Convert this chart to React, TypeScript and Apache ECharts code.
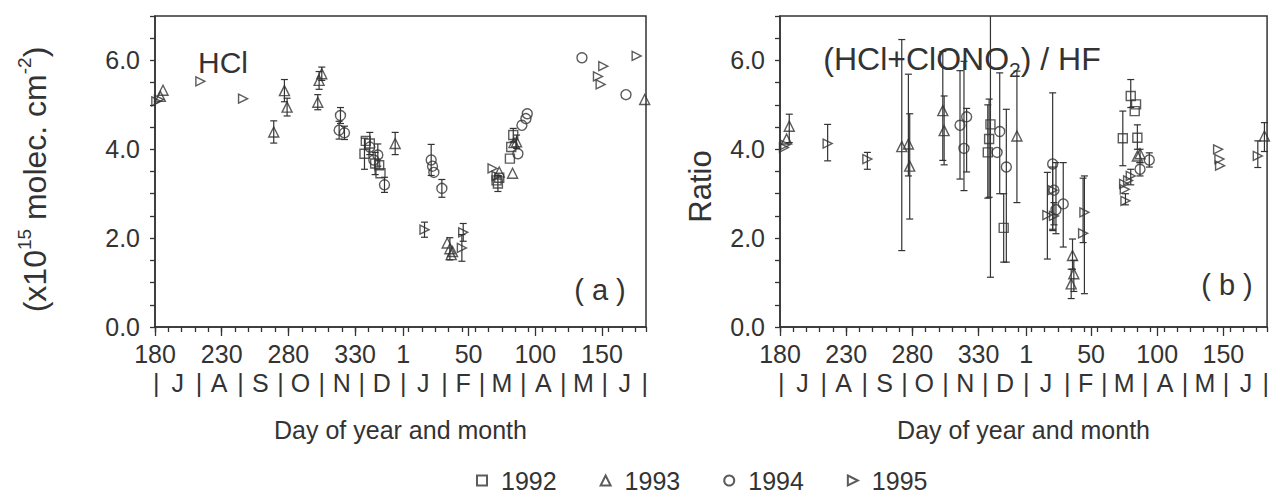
import React, { useEffect, useRef } from "react";
import * as echarts from "echarts";

const FONT = '"Liberation Sans", Arial, Helvetica, sans-serif';
const INK = "#333333";

// ---- axis labels ----
const years = ["1992", "1993", "1994", "1995"];
const dayTicks = [180, 230, 280, 330, 366, 415, 465, 515]; // day 366 = 1 Jan of next year
const monthStarts = [181, 213, 244, 274, 305, 335, 366, 397, 425, 456, 486, 517, 547];
const monthMids = [197, 228, 259, 289, 320, 350, 381, 411, 440, 471, 501, 532];
const monthLetters = ["J", "A", "S", "O", "N", "D", "J", "F", "M", "A", "M", "J"];
const yLabelValues = [0, 2, 4, 6];

// ---- panel (a) HCl columns: [day, value, error half-width] ----
const hcl1992 = [
  [337, 3.9, 0.35], [338, 4.19, 0], [341, 4.13, 0.25], [345, 3.68, 0.25], [348, 3.64, 0], [349, 3.46, 0],
  [436, 3.3, 0], [437, 3.23, 0.18], [438, 3.36, 0], [446, 3.79, 0], [447, 4.05, 0], [448.5, 4.32, 0.15],
];
const hcl1993 = [
  [184, 5.19, 0], [186, 5.33, 0], [269, 4.39, 0.25], [277, 5.32, 0.25], [279, 4.95, 0.2],
  [302, 5.06, 0.17], [303, 5.55, 0.2], [305, 5.7, 0.15], [360, 4.13, 0.25],
  [399, 1.89, 0], [401, 1.76, 0.25], [402, 1.63, 0], [403, 1.7, 0],
  [438, 3.49, 0], [448, 3.46, 0], [449, 4.15, 0], [451, 4.17, 0.15], [547, 5.12, 0],
];
const hcl1994 = [
  [318, 4.43, 0.2], [319, 4.76, 0.18], [322, 4.37, 0.15], [341, 4.05, 0], [344, 3.76, 0], [347, 3.87, 0.25],
  [352, 3.2, 0.17], [387, 3.76, 0.35], [388, 3.62, 0], [389, 3.48, 0], [395, 3.12, 0.2],
  [452, 3.9, 0], [455, 4.54, 0], [458, 4.69, 0], [459, 4.8, 0], [500, 6.06, 0], [533, 5.23, 0],
];
const hcl1995 = [
  [181, 5.08, 0], [183, 5.12, 0], [214, 5.53, 0], [246, 5.14, 0], [382, 2.19, 0.17],
  [411, 2.13, 0.2], [410, 1.78, 0.3], [433, 3.57, 0], [436, 3.4, 0],
  [512, 5.64, 0], [514, 5.46, 0], [516, 5.87, 0], [541, 6.1, 0],
];

// ---- panel (b) ratio: [day, value, low, high] (low/high null when no bar) ----
const ratio1992 = [
  [337, 3.93, 2.9, 5.0], [338, 4.23, 2.92, 5.13], [339, 4.56, 1.12, 7.5], [349, 2.23, 1.46, 3.0],
  [439, 4.25, 3.63, 4.86], [445, 5.2, 4.94, 5.57], [448, 4.86, null, null], [449, 5.01, null, null],
  [450, 4.26, 4.0, 4.55],
];
const ratio1993 = [
  [185, 4.23, null, null], [187, 4.52, 4.15, 4.79], [272, 4.06, 1.72, 6.47], [277, 4.12, 3.4, 5.69],
  [278, 3.62, 2.43, 4.8], [303, 4.87, 3.75, 6.2], [304, 4.42, 3.65, 5.2], [359, 4.3, 2.8, 5.76],
  [400, 0.97, 0.64, 1.3], [401, 1.61, 1.3, 1.98], [402, 1.2, 0.8, 1.5],
  [450, 3.85, null, null], [452, 3.9, 3.7, 4.0], [546, 4.3, 3.95, 4.6],
];
const ratio1994 = [
  [316, 4.54, 3.33, 5.77], [319, 4.02, 3.07, 5.98], [321, 4.73, 3.49, 4.92], [344, 3.93, null, null],
  [346, 4.4, 3.0, 5.72], [351, 3.6, 1.46, 4.9], [386, 3.67, 2.17, 5.27], [387, 3.08, null, null],
  [388.5, 2.64, 2.1, 3.7], [394, 2.77, 1.8, 3.7], [452, 3.55, 3.4, 3.7], [459, 3.76, 3.6, 3.92],
];
const ratio1995 = [
  [183, 4.04, null, null], [184, 4.1, null, null], [216, 4.13, 3.74, 4.56], [246, 3.78, 3.55, 3.93],
  [382, 2.52, 1.53, 3.48], [386, 3.08, 2.2, 3.6], [387, 2.5, 2.3, 2.8], [409, 2.11, 1.9, 3.35],
  [410, 2.58, 0.75, 3.4], [440, 3.22, null, null], [440.5, 3.1, null, null], [441, 2.84, 2.75, 3.0],
  [443, 3.3, null, null], [445, 3.4, 3.2, 3.55], [511, 4.0, null, null], [512, 3.78, null, null],
  [512.5, 3.63, null, null], [541, 3.85, 3.59, 4.19],
];

const hclSets = [hcl1992, hcl1993, hcl1994, hcl1995];
const ratioSets = [ratio1992, ratio1993, ratio1994, ratio1995];
const symbols = ["rect", "triangle", "circle", "path://M0,0L10,5L0,10Z"];
const symbolSizes = [9, 10, 10, 9];

const txt = (size: number) => ({ color: INK, fontFamily: FONT, fontSize: size });

function xAxesFor(gridIndex: number) {
  const lineStyle = { color: INK, width: 1.3 };
  return [
    {
      type: "value", gridIndex, min: 180, max: 548, interval: 10, position: "bottom",
      axisLine: { show: true, lineStyle: { color: INK, width: 1.5 } },
      axisTick: { show: true, length: 5, lineStyle },
      axisLabel: {
        customValues: dayTicks,
        formatter: (v: number) => String(v > 365 ? v - 365 : v),
        margin: 14, ...txt(25),
      },
      splitLine: { show: false },
      name: "Day of year and month", nameLocation: "middle", nameGap: 90,
      nameTextStyle: txt(25),
    },
    {
      type: "value", gridIndex, min: 180, max: 548, position: "bottom",
      axisLine: { show: false },
      axisTick: { show: true, length: 9, customValues: dayTicks, lineStyle },
      axisLabel: { show: false }, splitLine: { show: false },
    },
    {
      type: "value", gridIndex, min: 180, max: 548, position: "bottom", offset: 29,
      axisLine: { show: false }, axisTick: { show: false }, splitLine: { show: false },
      axisLabel: {
        customValues: [...monthStarts, ...monthMids].sort((a, b) => a - b),
        formatter: (v: number) => {
          const i = monthMids.indexOf(v);
          return i >= 0 ? monthLetters[i] : "|";
        },
        margin: 14, ...txt(25),
      },
    },
  ];
}

function yAxisFor(gridIndex: number, name: string, nameGap: number, nameStyle: any) {
  return {
    type: "value", gridIndex, min: 0, max: 7, interval: 0.5,
    axisLine: { show: true, lineStyle: { color: INK, width: 1.5 } },
    axisTick: { show: true, length: 5, lineStyle: { color: INK, width: 1.3 } },
    axisLabel: { customValues: yLabelValues, formatter: (v: number) => v.toFixed(1), margin: 15, ...txt(25) },
    splitLine: { show: false },
    name, nameLocation: "middle", nameRotate: 90, nameGap, nameTextStyle: nameStyle,
  };
}

const errorRender = (params: any, api: any) => {
  const x = api.value(0);
  const p1 = api.coord([x, api.value(1)]);
  const p2 = api.coord([x, api.value(2)]);
  const w = 3.5;
  const style = { stroke: INK, lineWidth: 1.2 };
  return {
    type: "group",
    children: [
      { type: "line", shape: { x1: p1[0], y1: p1[1], x2: p2[0], y2: p2[1] }, style },
      { type: "line", shape: { x1: p1[0] - w, y1: p1[1], x2: p1[0] + w, y2: p1[1] }, style },
      { type: "line", shape: { x1: p2[0] - w, y1: p2[1], x2: p2[0] + w, y2: p2[1] }, style },
    ],
  };
};

function buildOption() {
  const series: any[] = [];
  const errA: number[][] = [];
  const errB: number[][] = [];
  hclSets.forEach((set) => set.forEach((d) => { if (d[2] > 0) errA.push([d[0], d[1] - d[2], d[1] + d[2]]); }));
  ratioSets.forEach((set) => set.forEach((d: any) => { if (d[2] != null) errB.push([d[0], d[2], d[3]]); }));
  series.push({ type: "custom", name: "errA", xAxisIndex: 0, yAxisIndex: 0, clip: true, renderItem: errorRender, data: errA, encode: { x: 0, y: [1, 2] }, silent: true });
  series.push({ type: "custom", name: "errB", xAxisIndex: 3, yAxisIndex: 1, clip: true, renderItem: errorRender, data: errB, encode: { x: 0, y: [1, 2] }, silent: true });
  years.forEach((y, i) => {
    const common = {
      type: "scatter", name: y, symbol: symbols[i], symbolSize: symbolSizes[i],
      itemStyle: { color: "rgba(255,255,255,0)", borderColor: INK, borderWidth: 1.4 },
      emphasis: { disabled: true }, silent: true,
    };
    series.push({ ...common, xAxisIndex: 0, yAxisIndex: 0, data: hclSets[i].map((d) => [d[0], d[1]]) });
    series.push({ ...common, xAxisIndex: 3, yAxisIndex: 1, data: ratioSets[i].map((d: any) => [d[0], d[1]]) });
  });

  return {
    animation: false,
    backgroundColor: "#ffffff",
    textStyle: { fontFamily: FONT, color: INK },
    grid: [
      { left: 155, top: 16, width: 491, height: 311, show: true, borderColor: INK, borderWidth: 1.5 },
      { left: 780, top: 16, width: 491, height: 311, show: true, borderColor: INK, borderWidth: 1.5 },
    ],
    xAxis: [...xAxesFor(0), ...xAxesFor(1)],
    yAxis: [
      yAxisFor(0, "(x10{s|15} molec. cm{s|-2})", 100, {
        ...txt(32), lineHeight: 40, padding: [0, 16, 0, 0],
        rich: { s: { fontSize: 19, lineHeight: 19, verticalAlign: "top", color: INK, fontFamily: FONT } },
      }),
      yAxisFor(1, "Ratio", 64, { ...txt(31), padding: [0, 30, 0, 0] }),
    ],
    legend: {
      data: years, left: 471, top: 463, itemWidth: 10, itemHeight: 10, itemGap: 43,
      selectedMode: false,
      textStyle: { ...txt(25), lineHeight: 24, padding: [0, 0, 0, 9] },
    },
    graphic: [
      { type: "text", x: 223, y: 62, style: { text: "HCl", fill: INK, font: `30px ${FONT}`, textAlign: "center", textVerticalAlign: "middle" } },
      { type: "text", x: 600, y: 290, style: { text: "( a )", fill: INK, font: `29px ${FONT}`, textAlign: "center", textVerticalAlign: "middle" } },
      {
        type: "text", x: 962, y: 59,
        style: {
          text: "(HCl+ClONO{sub|2}) / HF", fill: INK, font: `32px ${FONT}`, lineHeight: 42,
          textAlign: "center", textVerticalAlign: "middle",
          rich: { sub: { fontSize: 21, lineHeight: 21, verticalAlign: "bottom", fill: INK, fontFamily: FONT } },
        },
      },
      { type: "text", x: 1227, y: 285, style: { text: "( b )", fill: INK, font: `29px ${FONT}`, textAlign: "center", textVerticalAlign: "middle" } },
    ],
    series,
  };
}

export default function App() {
  const ref = useRef<HTMLDivElement>(null);
  useEffect(() => {
    if (!ref.current) return;
    const chart = echarts.init(ref.current, undefined, { renderer: "svg" });
    chart.setOption(buildOption() as any);
    return () => chart.dispose();
  }, []);
  return <div ref={ref} style={{ position: "absolute", left: 0, top: 0, width: 1272, height: 494 }} />;
}
